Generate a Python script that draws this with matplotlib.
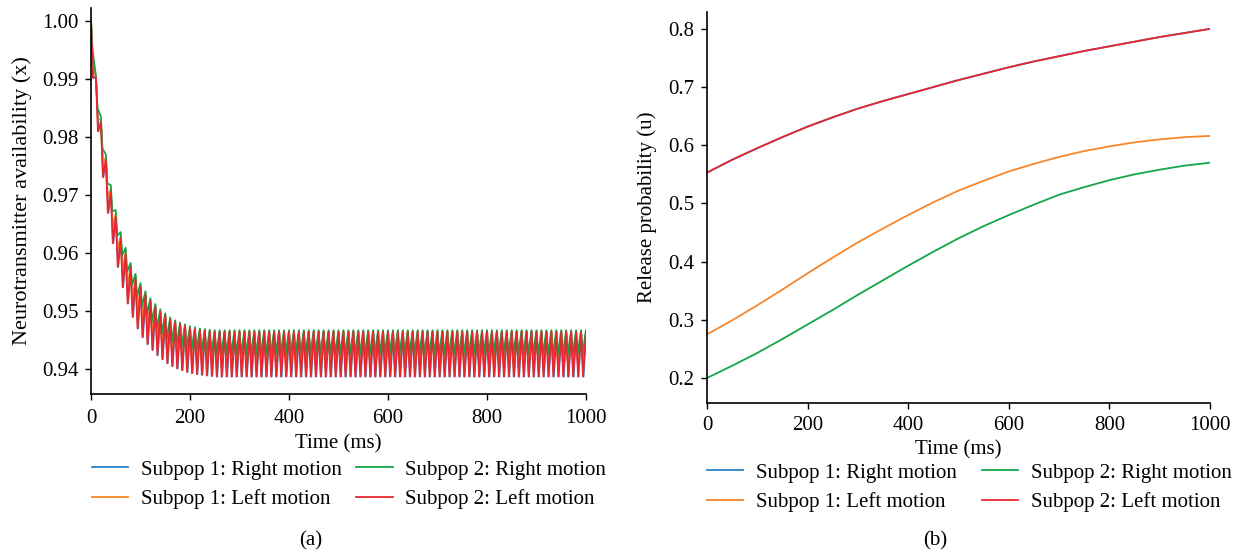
import numpy as np
import matplotlib
matplotlib.use("Agg")
import matplotlib.pyplot as plt

plt.rcParams['font.family'] = ['Liberation Serif', 'DejaVu Serif']
plt.rcParams['font.size'] = 15

labels = ["Subpop 1: Right motion", "Subpop 1: Left motion",
          "Subpop 2: Right motion", "Subpop 2: Left motion"]
colors = ['#2b83c6', '#f7862a', '#12a64b', '#e8282f']

# ---- panel (a): neurotransmitter availability, one peak every 10 ms ----
# transient readings for t = 0, 10, ..., 250 ms, then the settled value
green_peak = [1.0000, 0.9905, 0.9835, 0.9770, 0.9717, 0.9674, 0.9636, 0.9609, 0.9583,
              0.9564, 0.9548, 0.9534, 0.9522, 0.9512, 0.9503, 0.9496, 0.9489, 0.9484,
              0.9480, 0.9477, 0.9474, 0.9472, 0.9470, 0.9469, 0.9468, 0.9467]
green_trough = [0.9950, 0.9850, 0.9780, 0.9720, 0.9672, 0.9630, 0.9596, 0.9568, 0.9545,
                0.9525, 0.9508, 0.9494, 0.9482, 0.9470, 0.9461, 0.9453, 0.9447, 0.9442,
                0.9438, 0.9435, 0.9432, 0.9430, 0.9428, 0.9427, 0.9426, 0.9425]
orange_peak = [1.0000, 0.9904, 0.9830, 0.9765, 0.9711, 0.9668, 0.9630, 0.9603, 0.9579,
               0.9560, 0.9544, 0.9531, 0.9519, 0.9509, 0.9501, 0.9494, 0.9487, 0.9482,
               0.9478, 0.9475, 0.9472, 0.9470, 0.9468, 0.9467, 0.9466, 0.9465]
orange_trough = [0.9925, 0.9830, 0.9755, 0.9695, 0.9645, 0.9605, 0.9570, 0.9542, 0.9518,
                 0.9498, 0.9482, 0.9468, 0.9457, 0.9447, 0.9439, 0.9432, 0.9426, 0.9421,
                 0.9417, 0.9414, 0.9411, 0.9409, 0.9408, 0.9407, 0.9406, 0.9405]
red_peak = [1.0000, 0.9903, 0.9826, 0.9760, 0.9705, 0.9662, 0.9625, 0.9598, 0.9575,
            0.9556, 0.9541, 0.9528, 0.9517, 0.9507, 0.9499, 0.9492, 0.9486, 0.9481,
            0.9477, 0.9474, 0.9471, 0.9469, 0.9467, 0.9466, 0.9465, 0.9464]
red_trough = [0.9902, 0.9810, 0.9731, 0.9669, 0.9617, 0.9576, 0.9541, 0.9513, 0.9490,
              0.9470, 0.9455, 0.9443, 0.9433, 0.9424, 0.9417, 0.9410, 0.9405, 0.9401,
              0.9398, 0.9395, 0.9393, 0.9391, 0.9390, 0.9389, 0.9388, 0.9387]
blue_peak = red_peak
blue_trough = red_trough

# ---- panel (b): release probability, read every 50 ms ----
t_u = [0, 50, 100, 150, 200, 250, 300, 350, 400, 450, 500,
       550, 600, 650, 700, 750, 800, 850, 900, 950, 1000]
u_blue = [0.553, 0.575, 0.595, 0.614, 0.632, 0.648, 0.663, 0.676, 0.688, 0.700, 0.712,
          0.723, 0.734, 0.744, 0.753, 0.762, 0.770, 0.778, 0.786, 0.793, 0.800]
u_orange = [0.275, 0.299, 0.325, 0.352, 0.380, 0.407, 0.433, 0.457, 0.480, 0.502, 0.522,
            0.539, 0.555, 0.568, 0.580, 0.590, 0.598, 0.605, 0.610, 0.614, 0.616]
u_green = [0.200, 0.221, 0.243, 0.267, 0.292, 0.317, 0.343, 0.368, 0.393, 0.417, 0.440,
           0.461, 0.480, 0.498, 0.515, 0.528, 0.540, 0.550, 0.558, 0.565, 0.570]
u_red = u_blue


def spikes(peaks, troughs, lag):
    n = 101
    p = np.array(peaks + [peaks[-1]] * (n - len(peaks)))
    q = np.array(troughs + [troughs[-1]] * (n - 1 - len(troughs)))
    tp = np.arange(n) * 10.0
    x = np.empty(2 * n - 1)
    y = np.empty(2 * n - 1)
    x[0::2] = tp
    x[1::2] = tp[:-1] + lag
    y[0::2] = p
    y[1::2] = q
    return x, y


W, H = 1242, 554
fig = plt.figure(figsize=(W / 100, H / 100), dpi=100)

ax1 = fig.add_axes([91 / W, 1 - 394 / H, (586 - 91) / W, (394 - 8) / H])
ax2 = fig.add_axes([707 / W, 1 - 403 / H, (1210 - 707) / W, (403 - 12) / H])

series_a = [(blue_peak, blue_trough, 5), (orange_peak, orange_trough, 4),
            (green_peak, green_trough, 3), (red_peak, red_trough, 4)]
for (pk, tr, lag), c, lab in zip(series_a, colors, labels):
    x, y = spikes(pk, tr, lag)
    ax1.plot(x, y, color=c, lw=1.3, label=lab)

for u, c, lab in zip([u_blue, u_orange, u_green, u_red], colors, labels):
    ax2.plot(t_u, u, color=c, lw=1.3, label=lab)

ax1.set_xlim(0, 1000)
ax1.set_ylim(0.93569, 1.00224)
ax1.set_yticks([0.94, 0.95, 0.96, 0.97, 0.98, 0.99, 1.00])
ax1.set_yticklabels(['0.94', '0.95', '0.96', '0.97', '0.98', '0.99', '1.00'])
ax1.set_ylabel("Neurotransmitter availability (x)", labelpad=7, fontsize=16)

ax2.set_xlim(0, 1000)
ax2.set_ylim(0.157, 0.829)
ax2.set_yticks([0.2, 0.3, 0.4, 0.5, 0.6, 0.7, 0.8])
ax2.set_ylabel("Release probability (u)", labelpad=8)

for ax in (ax1, ax2):
    ax.set_xticks([0, 200, 400, 600, 800, 1000])
    ax.set_xlabel("Time (ms)", labelpad=4)
    for s in ('top', 'right'):
        ax.spines[s].set_visible(False)
    for s in ('left', 'bottom'):
        ax.spines[s].set_linewidth(1.2)
    ax.tick_params(direction='out', length=4, width=1, pad=5)
ax1.tick_params(axis='x', pad=7)

leg_kw = dict(loc='upper left', ncol=2, frameon=False, borderpad=0, borderaxespad=0,
              handlelength=1.75, handletextpad=0.6, labelspacing=0.45,
              bbox_transform=fig.transFigure)
ax1.legend(bbox_to_anchor=(92 / W, 1 - 460 / H), columnspacing=0.7, **leg_kw)
ax2.legend(bbox_to_anchor=(707 / W, 1 - 463 / H), columnspacing=1.2, **leg_kw)

fig.text(311 / W, 1 - 541 / H, "(a)", ha='center', va='center')
fig.text(935 / W, 1 - 541 / H, "(b)", ha='center', va='center')

fig.savefig("out.png", dpi=100)
